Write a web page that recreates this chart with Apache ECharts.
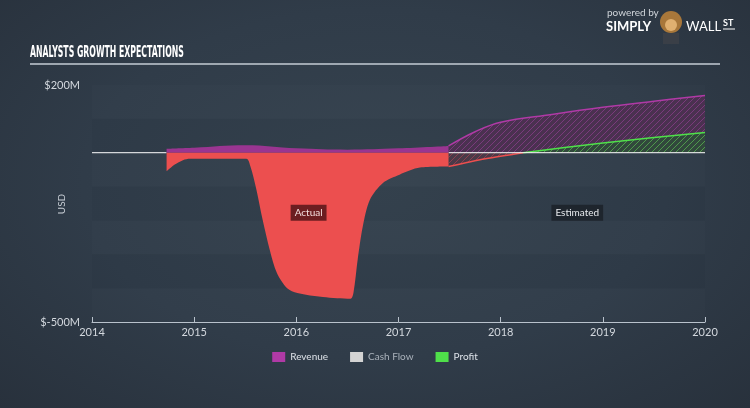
<!DOCTYPE html>
<html>
<head>
<meta charset="utf-8">
<script src="https://cdn.jsdelivr.net/npm/echarts@6/dist/echarts.min.js"></script>
<style>
html,body{margin:0;padding:0;width:750px;height:408px;overflow:hidden;}
body{background:radial-gradient(ellipse at 50% 45%, #36434f 0%, #303c49 55%, #28313c 100%);}
#c{width:750px;height:408px;}
</style>
</head>
<body>
<div id="c"></div>
<script>
// ---- data ----
const xTicks = [2014, 2015, 2016, 2017, 2018, 2019, 2020];
const yTickLabels = { '200': '$200M', '-500': '$-500M' };
const revenueActual = [[2014.73, 12], [2015.0, 15], [2015.5, 22], [2016.0, 13], [2016.5, 9], [2017.0, 13], [2017.49, 20]];
const profitActual = [[2014.73, -55], [2014.81, -35], [2014.89, -22], [2014.96, -18], [2015.51, -18], [2015.55, -40], [2015.61, -110], [2015.67, -198], [2015.74, -287], [2015.81, -355], [2015.91, -400], [2016.01, -414], [2016.26, -426], [2016.53, -431], [2016.56, -412], [2016.60, -317], [2016.65, -219], [2016.72, -139], [2016.85, -89], [2017.01, -65], [2017.21, -44], [2017.49, -41]];
const revenueEstimate = [[2017.49, 20], [2017.75, 62], [2018.0, 90], [2018.5, 113], [2019.0, 134], [2019.5, 152], [2020.0, 169]];
const profitEstimateNeg = [[2017.49, -41], [2017.85, -18], [2018.22, 0]];
const profitEstimatePos = [[2018.22, 0], [2019.0, 29], [2020.0, 60]];
const cashFlow = [];
const zeroLineLeft = [[2014, 0], [2014.73, 0]];
const zeroLineRight = [[2017.49, 0], [2020, 0]];
const labelActual = [2016.12, -177];
const labelEstimated = [2018.75, -177];

function hatch(bg, fg) {
  const c = document.createElement('canvas');
  c.width = 6; c.height = 6;
  const g = c.getContext('2d');
  g.fillStyle = bg; g.fillRect(0, 0, 6, 6);
  g.strokeStyle = fg; g.lineWidth = 1;
  g.beginPath();
  g.moveTo(0, 6); g.lineTo(6, 0);
  g.moveTo(-1, 1); g.lineTo(1, -1);
  g.moveTo(5, 7); g.lineTo(7, 5);
  g.stroke();
  return { image: c, repeat: 'repeat' };
}

const chart = echarts.init(document.getElementById('c'), null, { renderer: 'canvas' });
const FONT = 'Lato, "Open Sans", sans-serif';
const zeroStyle = { type: 'line', symbol: 'none', z: 2.5, silent: true, lineStyle: { color: '#ffffff', width: 1 } };

chart.setOption({
  backgroundColor: 'transparent',
  animation: false,
  grid: { left: 92, right: 45, top: 85, bottom: 86 },
  xAxis: {
    type: 'value', min: 2014, max: 2020, interval: 1,
    axisLine: { show: true, onZero: false, lineStyle: { color: '#b9c2cc', width: 1 } },
    axisTick: { show: true, inside: true, length: 5, lineStyle: { color: '#b9c2cc' } },
    axisLabel: { color: '#d3d8de', fontSize: 11, fontFamily: FONT, margin: 5, formatter: v => xTicks.includes(v) ? String(v) : '' },
    splitLine: { show: false }
  },
  yAxis: {
    type: 'value', min: -500, max: 200, interval: 100,
    axisLine: { show: false, onZero: false }, axisTick: { show: false },
    axisLabel: { color: '#d3d8de', fontSize: 11, fontFamily: FONT, margin: 12, formatter: v => yTickLabels[String(v)] || '' },
    splitLine: { show: false },
    splitArea: { show: true, areaStyle: { color: ['rgba(255,255,255,0.012)', 'rgba(0,0,0,0.022)'] } }
  },
  legend: {
    bottom: 41, left: 'center', itemWidth: 13, itemHeight: 10, itemGap: 22, icon: 'rect',
    textStyle: { fontSize: 10, fontFamily: FONT, color: '#dde2e8' },
    data: [
      { name: 'Revenue', itemStyle: { color: '#b03aa6' } },
      { name: 'Cash Flow', itemStyle: { color: '#d3d3d3' }, textStyle: { color: '#aab2bb' } },
      { name: 'Profit', itemStyle: { color: '#4fe04a' } }
    ]
  },
  series: [
    { name: 'Revenue', type: 'line', data: revenueEstimate, smooth: 0.4, symbol: 'none', z: 1,
      color: '#b03aa6', lineStyle: { color: '#b03aa6', width: 1.5 },
      areaStyle: { color: hatch('#4a3150', '#7a3a7c'), opacity: 1 } },
    { name: 'Profit', type: 'line', data: profitEstimateNeg, smooth: 0.3, symbol: 'none', z: 2,
      color: '#ec4f4f', lineStyle: { color: '#ec4f4f', width: 1.5 },
      areaStyle: { color: hatch('#4a3a48', '#8a4050'), opacity: 1 } },
    { name: 'Profit', type: 'line', data: profitEstimatePos, smooth: 0.2, symbol: 'none', z: 2,
      color: '#4fe04a', lineStyle: { color: '#4fe04a', width: 1.5 },
      areaStyle: { color: hatch('#31483c', '#4f9a4c'), opacity: 1 },
      markPoint: { symbol: 'rect', symbolSize: 1, itemStyle: { color: 'rgba(0,0,0,0)' },
        label: { show: true, position: 'inside', formatter: 'Estimated', color: '#e6e9ec', fontSize: 10, fontFamily: FONT,
          backgroundColor: '#1e252d', padding: [3, 4] },
        data: [{ coord: labelEstimated }] } },
    Object.assign({ name: 'zeroL', data: zeroLineLeft }, zeroStyle),
    Object.assign({ name: 'zeroR', data: zeroLineRight }, zeroStyle),
    { name: 'Revenue', type: 'line', data: revenueActual, smooth: 0.4, symbol: 'none', z: 3,
      color: '#9a3591', lineStyle: { color: '#9a3591', width: 1, opacity: 0 },
      areaStyle: { color: '#9a3591', opacity: 1 } },
    { name: 'Profit', type: 'line', data: profitActual, smooth: 0.3, symbol: 'none', z: 3,
      color: '#ec4f4f', lineStyle: { color: '#ec4f4f', width: 1, opacity: 0 },
      areaStyle: { color: '#ec4f4f', opacity: 1 },
      markPoint: { symbol: 'rect', symbolSize: 1, itemStyle: { color: 'rgba(0,0,0,0)' },
        label: { show: true, position: 'inside', formatter: 'Actual', color: '#f2dede', fontSize: 10, fontFamily: FONT,
          backgroundColor: '#6c1e21', padding: [3, 4] },
        data: [{ coord: labelActual }] } },
    { name: 'Cash Flow', type: 'line', data: cashFlow, symbol: 'none', color: '#d3d3d3' }
  ],
  graphic: [
    { type: 'text', x: 30, y: 45, scaleX: 0.54,
      style: { text: 'ANALYSTS GROWTH EXPECTATIONS', fill: '#ffffff', font: 'bold 16px "Liberation Sans Narrow", "DejaVu Sans Condensed", sans-serif' } },
    { type: 'line', shape: { x1: 30, y1: 64, x2: 720, y2: 64 }, style: { stroke: '#c4ccd4', lineWidth: 1.5 } },
    { type: 'text', x: 62, y: 204, rotation: Math.PI / 2,
      style: { text: 'USD', fill: '#c9cfd6', font: '10px Lato, sans-serif', align: 'center', verticalAlign: 'middle' } },
    { type: 'text', left: 607, top: 8, style: { text: 'powered by', fill: '#d0d5da', font: '10px Lato, sans-serif' } },
    { type: 'text', left: 606, top: 20, style: { text: 'SIMPLY', fill: '#ffffff', font: 'bold 13px Lato, sans-serif' } },
    { type: 'circle', shape: { cx: 671, cy: 22, r: 11 }, style: { fill: '#a8773a' } },
    { type: 'circle', shape: { cx: 671, cy: 25, r: 6 }, style: { fill: '#e0b070' } },
    { type: 'rect', shape: { x: 663, y: 33, width: 16, height: 11 }, style: { fill: '#3a3f47' } },
    { type: 'text', left: 686, top: 20, style: { text: 'WALL', fill: '#ffffff', font: '13px Lato, sans-serif' } },
    { type: 'text', left: 723, top: 19, style: { text: 'ST', fill: '#ffffff', font: 'bold 9px Lato, sans-serif' } },
    { type: 'line', shape: { x1: 723, y1: 29, x2: 735, y2: 29 }, style: { stroke: '#ffffff', lineWidth: 1 } }
  ]
});
</script>
</body>
</html>
